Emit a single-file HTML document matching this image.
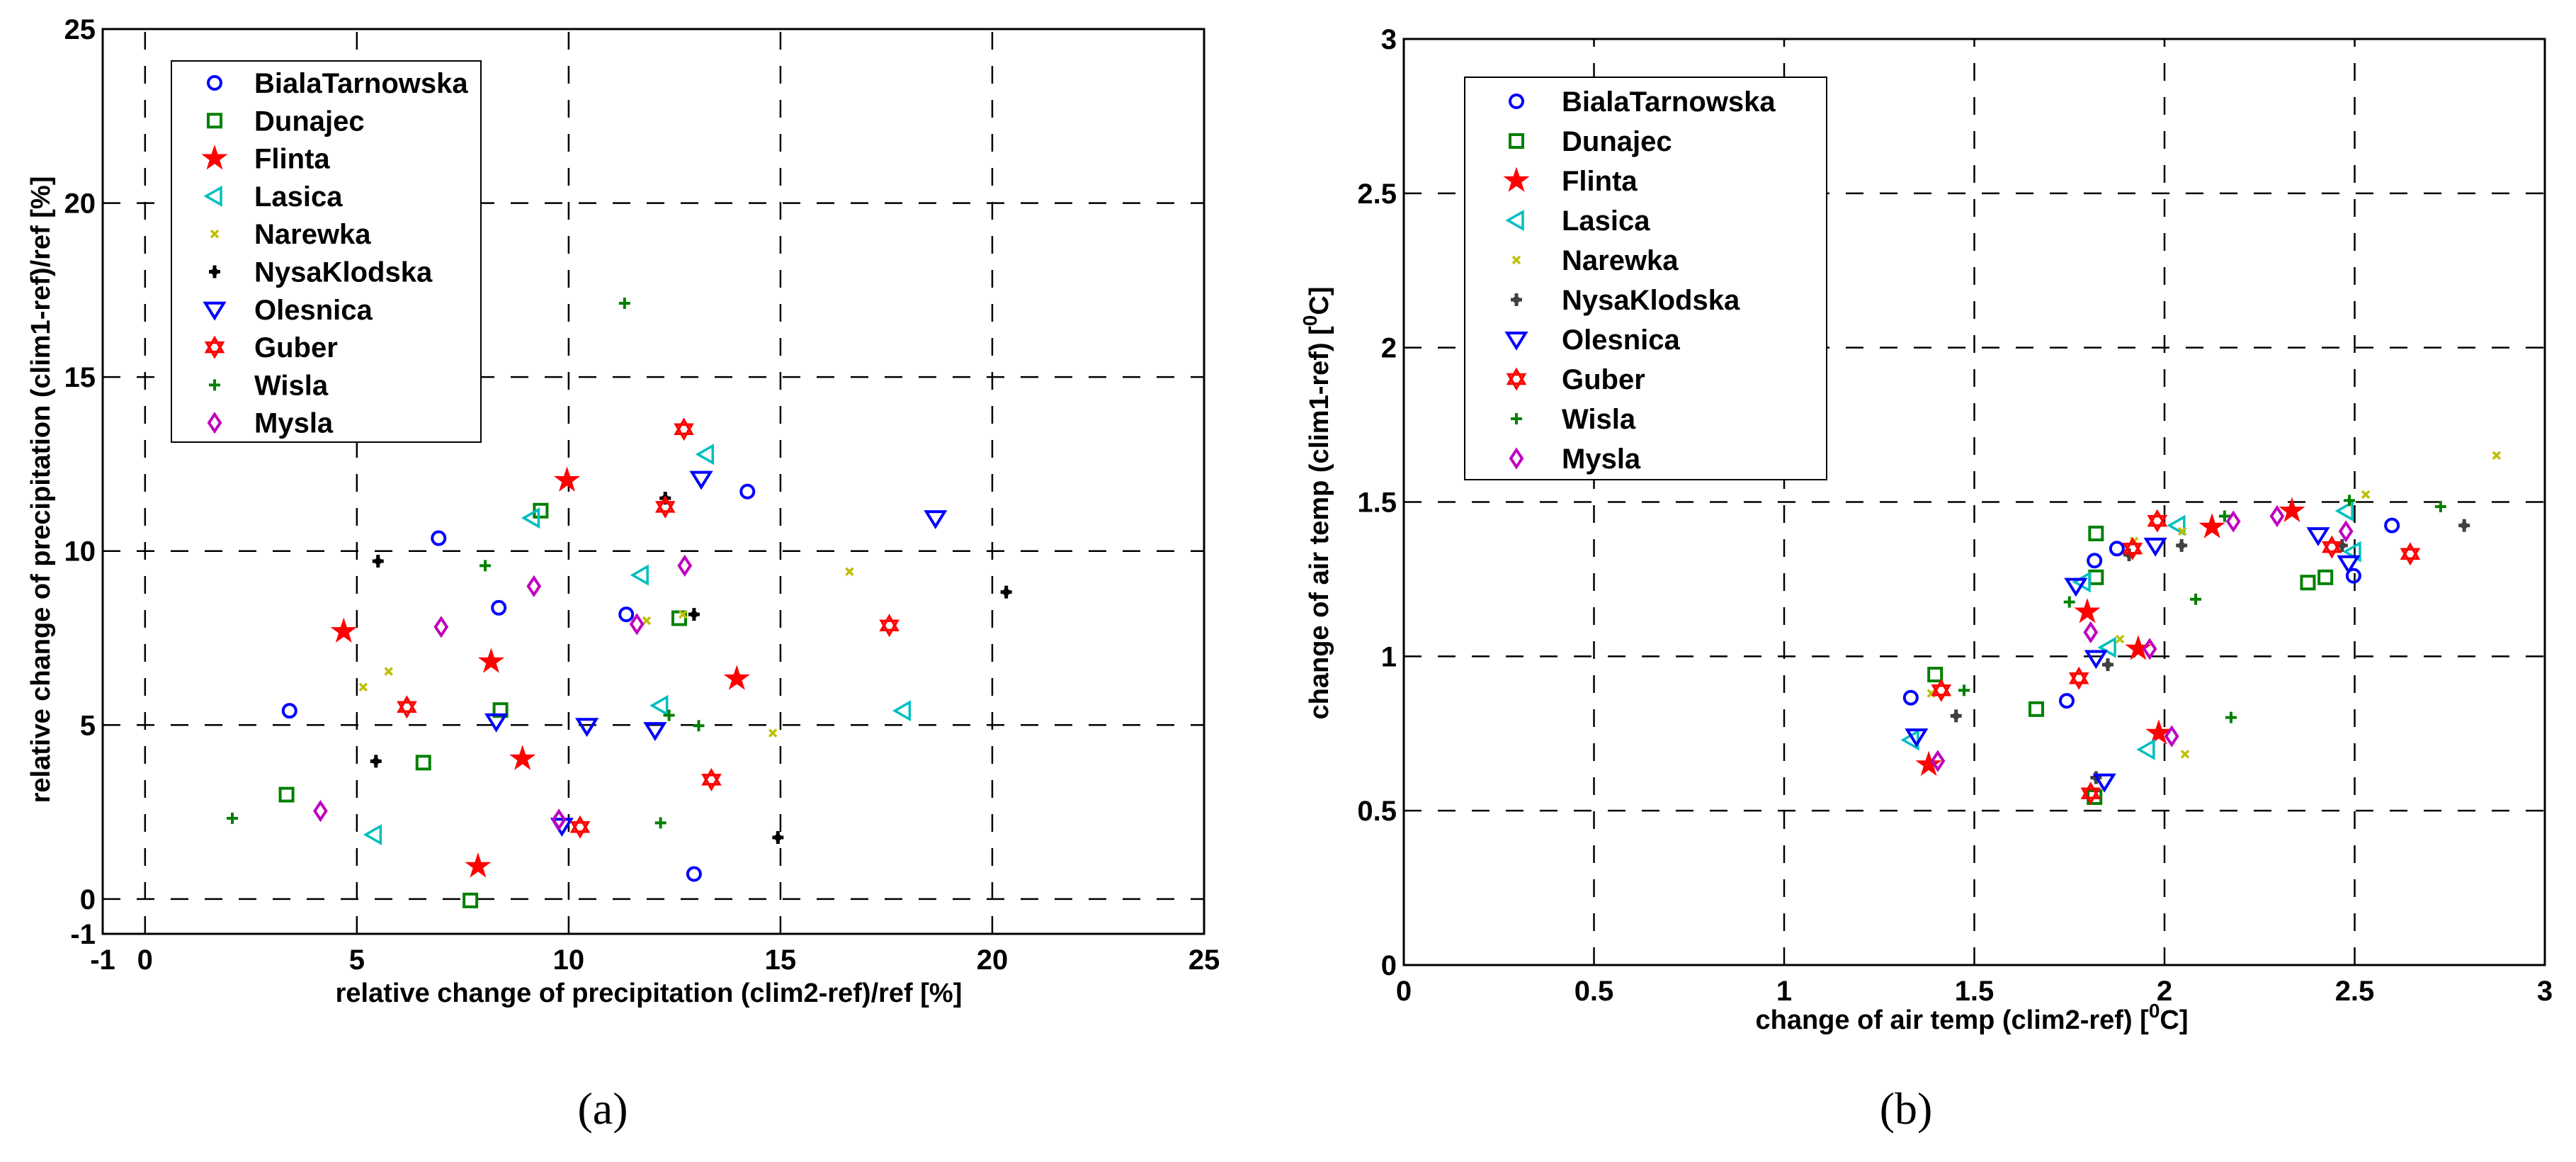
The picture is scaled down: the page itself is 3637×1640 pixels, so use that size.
<!DOCTYPE html>
<html><head><meta charset="utf-8"><style>
html,body{margin:0;padding:0;background:#fff;}
svg{display:block;}
text{font-family:"Liberation Sans",Arial,sans-serif;font-weight:bold;fill:#000;}
</style></head><body>
<svg id="fig" width="3637" height="1640" viewBox="0 0 3637 1640" xmlns="http://www.w3.org/2000/svg"></svg>
<script>
const seriesNames = ["BialaTarnowska","Dunajec","Flinta","Lasica","Narewka","NysaKlodska","Olesnica","Guber","Wisla","Mysla"];
const seriesColorsA = ["#0000ff","#008000","#ff0000","#00bfbf","#bfbf00","#000000","#0000ff","#ff0000","#008000","#bf00bf"];
const seriesColorsB = ["#0000ff","#008000","#ff0000","#00bfbf","#bfbf00","#404040","#0000ff","#ff0000","#008000","#bf00bf"];
const seriesMarkers = ["circle","square","star","trileft","xmark","nysa","tridown","hexa","plus","diamond"];

// Panel (a): precipitation change
const aX = [
 [3.41,6.93,8.35,11.36,14.22,12.96],
 [3.34,6.57,7.68,8.39,9.34,12.61],
 [4.69,7.86,8.17,8.91,9.96,13.97],
 [5.41,9.14,11.71,12.17,13.25,17.9],
 [5.15,5.75,11.84,12.7,14.82,16.63],
 [5.5,5.45,12.28,12.96,14.94,20.33],
 [8.29,9.84,10.43,12.04,13.13,18.66],
 [6.18,10.27,12.28,12.72,13.37,17.57],
 [2.06,8.03,11.32,12.17,12.37,13.07],
 [4.14,6.99,9.18,9.77,11.61,12.74]
];
const aY = [
 [5.41,10.37,8.37,8.18,11.71,0.72],
 [3.0,3.92,-0.04,5.43,11.16,8.07],
 [7.69,0.94,6.82,4.03,12.03,6.33],
 [1.85,10.95,9.31,5.56,12.78,5.41],
 [6.09,6.54,8.0,8.18,4.77,9.41],
 [9.71,3.96,11.52,8.18,1.77,8.82],
 [5.11,2.11,4.98,4.86,12.08,10.95],
 [5.52,2.07,11.27,13.5,3.43,7.86],
 [2.32,9.58,17.12,2.19,5.28,4.98],
 [2.53,7.82,8.99,2.28,7.9,9.58]
];
const aXTicks = [-1,0,5,10,15,20,25];
const aYTicks = [-1,0,5,10,15,20,25];
const aGrid = [0,5,10,15,20];

// Panel (b): air temperature change
const bX = [
 [1.333,1.743,1.816,1.875,2.497,2.598],
 [1.397,1.663,1.816,1.82,1.82,2.377,2.423],
 [1.38,1.797,1.931,1.985,2.125,2.335],
 [1.335,1.786,1.853,1.955,2.035,2.477,2.497],
 [1.387,1.883,1.92,2.047,2.054,2.529,2.873],
 [1.452,1.851,1.82,1.907,2.045,2.467,2.788],
 [1.348,1.767,1.82,1.842,1.976,2.404,2.484],
 [1.413,1.775,1.806,1.916,1.981,2.44,2.646],
 [1.473,1.75,2.082,2.158,2.175,2.486,2.726],
 [1.404,1.806,1.961,2.019,2.181,2.296,2.477]
];
const bY = [
 [0.866,0.856,1.31,1.349,1.261,1.424],
 [0.941,0.829,0.544,1.398,1.256,1.239,1.256],
 [0.649,1.144,1.024,0.751,1.419,1.471],
 [0.729,1.241,1.029,0.698,1.424,1.471,1.339],
 [0.88,1.056,1.373,1.405,0.683,1.524,1.651],
 [0.807,0.973,0.607,1.329,1.359,1.359,1.424],
 [0.741,1.229,0.995,0.595,1.359,1.393,1.302],
 [0.89,0.929,0.556,1.349,1.439,1.354,1.332],
 [0.89,1.176,1.185,1.454,0.802,1.505,1.485],
 [0.661,1.078,1.024,0.741,1.437,1.454,1.405]
];
const bTicks = [0,0.5,1,1.5,2,2.5,3];
const bGrid = [0.5,1,1.5,2,2.5];

const NS="http://www.w3.org/2000/svg";
const svg=document.getElementById('fig');
function el(tag,attrs,parent){const e=document.createElementNS(NS,tag);for(const k in attrs)e.setAttribute(k,attrs[k]);(parent||svg).appendChild(e);return e;}

function marker(g,type,cx,cy,color){
  let m;
  const sw=4;
  if(type==="circle"){m=el('circle',{cx:cx,cy:cy,r:9,fill:'none',stroke:color,'stroke-width':sw},g);}
  else if(type==="square"){m=el('rect',{x:cx-9,y:cy-9,width:18,height:18,fill:'none',stroke:color,'stroke-width':sw},g);}
  else if(type==="star"){let p=[];for(let i=0;i<10;i++){const r=i%2?7:18;const a=-Math.PI/2+i*Math.PI/5;p.push((cx+r*Math.cos(a)).toFixed(1)+','+(cy+r*Math.sin(a)).toFixed(1));}
    m=el('polygon',{points:p.join(' '),fill:color,stroke:color,'stroke-width':1},g);}
  else if(type==="trileft"){m=el('polygon',{points:`${cx-12},${cy} ${cx+9},${cy-12} ${cx+9},${cy+12}`,fill:'none',stroke:color,'stroke-width':3.5},g);}
  else if(type==="tridown"){m=el('polygon',{points:`${cx-13},${cy-9} ${cx+13},${cy-9} ${cx},${cy+12}`,fill:'none',stroke:color,'stroke-width':sw},g);}
  else if(type==="xmark"){m=el('path',{d:`M${cx-5},${cy-5}L${cx+5},${cy+5}M${cx-5},${cy+5}L${cx+5},${cy-5}`,stroke:color,'stroke-width':3.5,fill:'none'},g);}
  else if(type==="nysa"){m=el('path',{d:`M${cx-8},${cy}L${cx+8},${cy}M${cx},${cy-9}L${cx},${cy+9}`,stroke:color,'stroke-width':5,fill:'none'},g);
    el('circle',{cx:cx,cy:cy,r:5,fill:color},g);}
  else if(type==="hexa"){const r=13;let p1=[],p2=[];for(let i=0;i<3;i++){const a1=-Math.PI/2+i*2*Math.PI/3,a2=Math.PI/2+i*2*Math.PI/3;p1.push((cx+r*Math.cos(a1)).toFixed(1)+','+(cy+r*Math.sin(a1)).toFixed(1));p2.push((cx+r*Math.cos(a2)).toFixed(1)+','+(cy+r*Math.sin(a2)).toFixed(1));}
    el('polygon',{points:p1.join(' '),fill:'none',stroke:color,'stroke-width':3.5},g);m=el('polygon',{points:p2.join(' '),fill:'none',stroke:color,'stroke-width':3.5},g);}
  else if(type==="plus"){m=el('path',{d:`M${cx-8},${cy}L${cx+8},${cy}M${cx},${cy-8}L${cx},${cy+8}`,stroke:color,'stroke-width':4,fill:'none'},g);}
  else if(type==="diamond"){m=el('polygon',{points:`${cx},${cy-12} ${cx+8},${cy} ${cx},${cy+12} ${cx-8},${cy}`,fill:'none',stroke:color,'stroke-width':sw},g);}
  return m;
}

function panel(cfg){
  const g=el('g',{});
  
  
  const X=v=>cfg.x0+(v-cfg.xmin)*(cfg.x1-cfg.x0)/(cfg.xmax-cfg.xmin);
  const Y=v=>cfg.y0-(v-cfg.ymin)*(cfg.y0-cfg.y1)/(cfg.ymax-cfg.ymin);
  // grid
  const grid=el('g',{},g);
  
  
  cfg.xgrid.forEach(v=>{el('line',{x1:X(v),x2:X(v),y1:cfg.y0,y2:cfg.y1,stroke:'#000','stroke-width':2.5,'stroke-dasharray':'25 23'},grid);});
  cfg.ygrid.forEach(v=>{el('line',{x1:cfg.x0,x2:cfg.x1,y1:Y(v),y2:Y(v),stroke:'#000','stroke-width':2.5,'stroke-dasharray':'25 23'},grid);});
  // frame
  const fr=el('rect',{x:cfg.x0,y:cfg.y1,width:cfg.x1-cfg.x0,height:cfg.y0-cfg.y1,fill:'none',stroke:'#000','stroke-width':3},g);
  
  
  // ticks labels
  cfg.xticks.forEach(v=>{const t=el('text',{x:X(v),y:cfg.y0+50,'font-size':40,'text-anchor':'middle'},g);t.textContent=String(v);
    
    });
  cfg.yticks.forEach(v=>{const t=el('text',{x:cfg.x0-10,y:Y(v)+14,'font-size':40,'text-anchor':'end'},g);t.textContent=String(v);
    
    });
  // points
  for(let s=0;s<cfg.xs.length;s++){
    const sg=el('g',{},g);
    
    
    for(let i=0;i<cfg.xs[s].length;i++){
      const m=marker(sg,seriesMarkers[s],X(cfg.xs[s][i]),Y(cfg.ys[s][i]),cfg.colors[s]);
      
      
    }
  }
  // legend
  const lg=el('g',{},g);
  
  
  el('rect',{x:cfg.lx,y:cfg.ly,width:cfg.lw,height:cfg.lh,fill:'#fff',stroke:'#000','stroke-width':2},lg);
  for(let s=0;s<seriesNames.length;s++){
    const yy=cfg.ly+cfg.lfirst+s*cfg.lstep;
    const e=el('g',{},lg);
    
    
    marker(e,seriesMarkers[s],cfg.lmx,yy,cfg.colors[s]);
    const t=el('text',{x:cfg.ltx,y:yy+14,'font-size':40},e);t.textContent=seriesNames[s];
  }
}

panel({name:'panel-a',x0:145,x1:1700,y0:1318,y1:41,xmin:-1,xmax:25,ymin:-1,ymax:25,
  xgrid:aGrid,ygrid:aGrid,xticks:aXTicks,yticks:aYTicks,xs:aX,ys:aY,colors:seriesColorsA,
  lx:242,ly:86,lw:437,lh:538,lfirst:31,lstep:53.3,lmx:303,ltx:359});
panel({name:'panel-b',x0:1982,x1:3593,y0:1362,y1:55,xmin:0,xmax:3,ymin:0,ymax:3,
  xgrid:bGrid,ygrid:bGrid,xticks:bTicks,yticks:bTicks,xs:bX,ys:bY,colors:seriesColorsB,
  lx:2068,ly:109,lw:511,lh:568,lfirst:34,lstep:56,lmx:2141,ltx:2205});
</script>
<svg width="0" height="0" style="position:absolute"></svg>
<div style="position:absolute;left:0;top:0;width:3637px;height:1640px;pointer-events:none">
<svg width="3637" height="1640" viewBox="0 0 3637 1640" xmlns="http://www.w3.org/2000/svg" style="position:absolute;left:0;top:0">
  <text x="916" y="1414" font-size="38" text-anchor="middle">relative change of precipitation (clim2-ref)/ref [%]</text>
  <text transform="translate(70,691) rotate(-90)" font-size="38" text-anchor="middle">relative change of precipitation (clim1-ref)/ref [%]</text>
  <text x="2784" y="1452" font-size="38" text-anchor="middle">change of air temp (clim2-ref) [<tspan dy="-16" font-size="28">0</tspan><tspan dy="16">C]</tspan></text>
  <text transform="translate(1875,710) rotate(-90)" font-size="38" text-anchor="middle">change of air temp (clim1-ref) [<tspan dy="-16" font-size="28">0</tspan><tspan dy="16">C]</tspan></text>
  <text x="851" y="1586" font-size="64" text-anchor="middle" style="font-family:'Liberation Serif',serif;font-weight:normal">(a)</text>
  <text x="2691" y="1586" font-size="64" text-anchor="middle" style="font-family:'Liberation Serif',serif;font-weight:normal">(b)</text>
</svg>
</div>
</body></html>
